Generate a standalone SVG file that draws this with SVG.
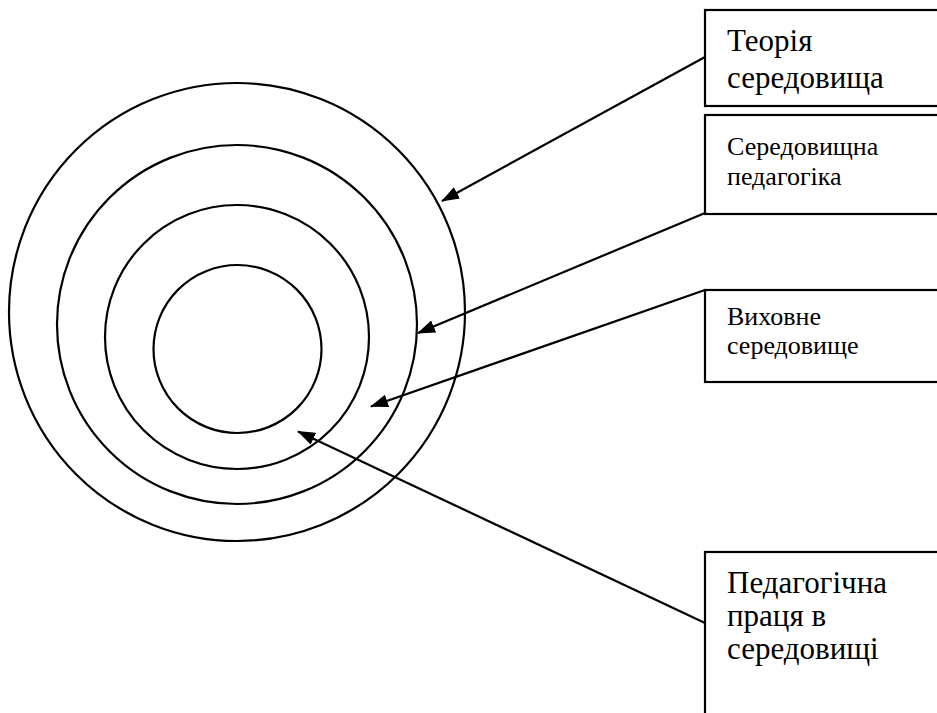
<svg xmlns="http://www.w3.org/2000/svg" width="937" height="713" viewBox="0 0 937 713">
<defs>
<style>
.ring{fill:none;stroke:#000;stroke-width:2.2}
.box{fill:#fff;stroke:#000;stroke-width:2.2}
.con{stroke:#000;stroke-width:2.2;fill:none;marker-end:url(#ah)}
text{font-family:'Liberation Serif','DejaVu Serif',serif;fill:#000}
.big{font-size:31px}
.small{font-size:26px}
</style>
<marker id="ah" viewBox="0 0 18 13" refX="17" refY="6.5" markerWidth="18" markerHeight="13" markerUnits="userSpaceOnUse" orient="auto">
<path d="M0,0 L18,6.5 L0,13 z" fill="#000"/>
</marker>
</defs>
<rect width="937" height="713" fill="#fff"/>
<g id="rings">
<ellipse class="ring" cx="237" cy="312" rx="228" ry="229"/>
<ellipse class="ring" cx="237" cy="324.5" rx="180" ry="179.5"/>
<ellipse class="ring" cx="237" cy="337" rx="132" ry="132"/>
<ellipse class="ring" cx="237.5" cy="349" rx="84" ry="84"/>
</g>
<g id="connectors">
<line class="con" x1="705" y1="57" x2="442" y2="201"/>
<line class="con" x1="705" y1="213" x2="418" y2="333"/>
<line class="con" x1="705" y1="290" x2="371" y2="406.5"/>
<line class="con" x1="705" y1="623" x2="298" y2="431.5"/>
</g>
<g id="node1">
<rect class="box" x="705" y="10" width="250" height="96"/>
<text class="big" x="727" y="51" font-family="Liberation Serif">Теорія</text>
<text class="big" x="727" y="88" font-family="Liberation Serif">середовища</text>
</g>
<g id="node2">
<rect class="box" x="705" y="115" width="250" height="99"/>
<text class="small" x="727" y="155">Середовищна</text>
<text class="small" x="727" y="185">педагогіка</text>
</g>
<g id="node3">
<rect class="box" x="705" y="290" width="250" height="92"/>
<text class="small" x="727" y="325">Виховне</text>
<text class="small" x="727" y="354">середовище</text>
</g>
<g id="node4">
<rect class="box" x="705" y="552" width="250" height="180"/>
<text class="big" x="727" y="593">Педагогічна</text>
<text class="big" x="727" y="626">праця в</text>
<text class="big" x="727" y="659">середовищі</text>
</g>
</svg>
